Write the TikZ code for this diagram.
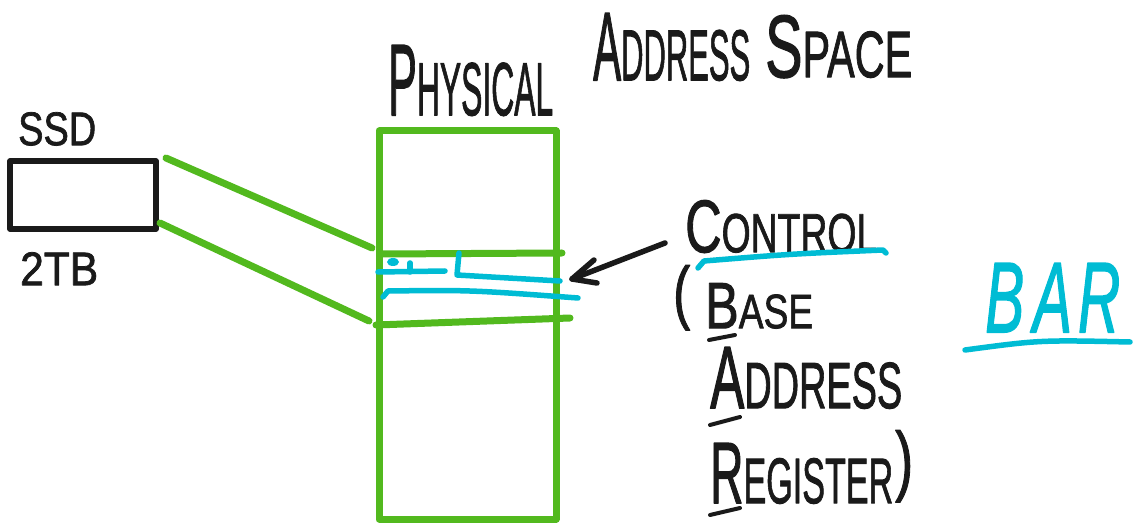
\documentclass[tikz,border=0pt]{standalone}
\usepackage{fontspec}
\usepackage{graphicx}
\newfontfamily\hand{Liberation Sans}[FakeBold=1.6]
\definecolor{penGreen}{RGB}{82,185,30}
\definecolor{penCyan}{RGB}{0,188,212}
\definecolor{penInk}{RGB}{26,26,26}
% first letter full size, the rest of the word smaller
\newcommand\smallrest[2]{#1\scalebox{0.74}{#2}}
% a word fitted to a given width and cap height
\newcommand\fitword[3]{\resizebox{#1pt}{#2pt}{\hand #3}}
\begin{document}
\begin{tikzpicture}[x=1pt,y=-1pt,line cap=round,line join=round,
  inkpen/.style={draw=penInk,line width=5.5pt},
  thinink/.style={draw=penInk,line width=4pt},
  greenpen/.style={draw=penGreen,line width=7pt},
  cyanpen/.style={draw=penCyan,line width=5.5pt},
  word/.style={inner sep=0pt,anchor=north west,text=penInk}]
\useasboundingbox (0,0) rectangle (1138,526);

% SSD
\node[word] (ssdlabel) at (18,112) {\fitword{78}{33}{SSD}};
\node[inkpen,rectangle,minimum width=146pt,minimum height=68pt,inner sep=0pt] (ssd) at (83,195) {};
\node[word] (ssdsize) at (20,252) {\fitword{78}{33}{2TB}};

% title
\node[word] (t1) at (388,45) {\fitword{165}{70}{\smallrest{P}{HYSICAL}}};
\node[word] (t2) at (593,13) {\fitword{157}{67}{\smallrest{A}{DDRESS}}};
\node[word] (t3) at (765,15) {\fitword{147}{62}{\smallrest{S}{PACE}}};

% physical address space column
\node[greenpen,rectangle,minimum width=177pt,minimum height=388pt,inner sep=0pt] (space) at (467.5,325) {};
\coordinate (r1w) at (381,254);
\coordinate (r1e) at (562,253);
\coordinate (r2w) at (376,325);
\coordinate (r2e) at (570,318);
\draw[greenpen] (r1w) -- (r1e);
\draw[greenpen] (r2w) -- (r2e);

% mapping of the SSD into the region
\coordinate (s1) at (166,158);
\coordinate (s2) at (160,223);
\coordinate (m1) at (372,248);
\coordinate (m2) at (369,321);
\draw[greenpen] (s1) -- (m1);
\draw[greenpen] (s2) -- (m2);

% control registers inside the region
\fill[penCyan] (393,262) ellipse (6pt and 4pt);
\draw[cyanpen] (378,272) -- (445,271);
\draw[cyanpen] (410,263) -- (410,272);
\draw[cyanpen] (459,253) -- (457,275) -- (560,281);
\draw[cyanpen] (383,297) -- (388,291) .. controls (470,290) .. (578,298);

% labels on the right
\node[word] (control) at (685,200) {\fitword{192}{52}{\smallrest{C}{ONTROL}}};
\draw[cyanpen] (698,268) -- (704,261) .. controls (790,254) .. (883,250) -- (886,253);
\node[word] (lparen) at (673,265) {\resizebox*{17pt}{65pt}{\hand (}};
\node[word] (base) at (705,283) {\fitword{108}{45}{\smallrest{B}{ASE}}};
\node[word] (address) at (710,347) {\fitword{192}{61}{\smallrest{A}{DDRESS}}};
\node[word] (register) at (710,443) {\fitword{183}{60}{\smallrest{R}{EGISTER}}};
\node[word] (rparen) at (895,430) {\resizebox*{18pt}{72pt}{\hand )}};
\draw[thinink] (709,340) -- (735,335);
\draw[thinink] (710,425) -- (740,417);
\draw[thinink] (710,515) -- (740,508);

% arrow to the registers
\coordinate (tail) at (665,243);
\coordinate (tip) at (572,279);
\draw[inkpen] (tail) -- (tip);
\draw[inkpen] (594,260) -- (tip) -- (597,283);

% BAR
\node[word,text=penCyan] (bar) at (985,263) {\fitword{135}{69}{\itshape B\kern0.15em A\kern0.1em R}};
\draw[cyanpen] (965,350) .. controls (1040,340) .. (1130,342);
\end{tikzpicture}
\end{document}
